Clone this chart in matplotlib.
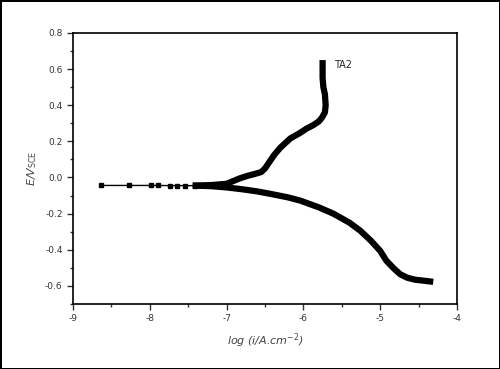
import matplotlib
matplotlib.use("Agg")
import matplotlib.pyplot as plt
from matplotlib.ticker import MultipleLocator

# sparse points (left tail)
tail_x = [-8.63, -8.27, -7.99, -7.89, -7.74, -7.65, -7.54, -7.41]
tail_y = [-0.044, -0.044, -0.044, -0.044, -0.045, -0.045, -0.045, -0.045]

# anodic branch
an_x = [-7.40, -7.20, -7.00, -6.83, -6.72, -6.63, -6.55, -6.50, -6.46, -6.43, -6.38,
        -6.30, -6.17, -6.05, -5.96, -5.87, -5.80, -5.76, -5.72, -5.71, -5.72, -5.74, -5.75, -5.75, -5.75]
an_y = [-0.045, -0.042, -0.035, -0.005, 0.01, 0.02, 0.03, 0.05, 0.075, 0.094, 0.125,
        0.165, 0.216, 0.245, 0.27, 0.29, 0.31, 0.33, 0.36, 0.40, 0.46, 0.50, 0.55, 0.60, 0.632]

# cathodic branch
ca_x = [-7.40, -7.20, -7.00, -6.80, -6.60, -6.40, -6.20, -6.04, -5.80, -5.61, -5.40, -5.26,
        -5.12, -5.00, -4.92, -4.83, -4.74, -4.65, -4.55, -4.45, -4.35]
ca_y = [-0.045, -0.048, -0.055, -0.065, -0.077, -0.093, -0.11, -0.128, -0.165, -0.20, -0.25, -0.294,
        -0.35, -0.406, -0.46, -0.50, -0.535, -0.554, -0.565, -0.570, -0.575]

label = "TA2"

fig = plt.figure(figsize=(5.0, 3.69), dpi=100)
fig.patch.set_edgecolor('black')
fig.patch.set_linewidth(2)
ax = fig.add_axes([0.146, 0.176, 0.768, 0.735])

ax.plot(tail_x, tail_y, '-s', color='black', lw=1, ms=3.5)
ax.plot(an_x, an_y, '-', color='black', lw=4.5, solid_capstyle='projecting', solid_joinstyle='round')
ax.plot(ca_x, ca_y, '-', color='black', lw=4.5, solid_capstyle='projecting', solid_joinstyle='round')
ax.text(-5.6, 0.62, label, fontsize=7, color='#222', va='center', ha='left')

ax.set_xlim(-9, -4)
ax.set_ylim(-0.7, 0.8)
ax.xaxis.set_major_locator(MultipleLocator(1))
ax.xaxis.set_minor_locator(MultipleLocator(0.5))
ax.yaxis.set_major_locator(MultipleLocator(0.2))
ax.yaxis.set_minor_locator(MultipleLocator(0.1))
ax.xaxis.set_major_formatter(matplotlib.ticker.FuncFormatter(lambda v, p: f"{v:.0f}"))
ax.yaxis.set_major_formatter(matplotlib.ticker.FuncFormatter(lambda v, p: f"{v:.1f}"))
ax.tick_params(which='both', direction='out', top=False, right=False, width=1, colors='#333',
               labelsize=6.5)
ax.tick_params(which='major', length=4)
ax.tick_params(which='minor', length=2.5)
for s in ax.spines.values():
    s.set_linewidth(1.2)

ax.set_xlabel("log (i/A.cm$^{-2}$)", fontsize=8, style='italic', color='#444', labelpad=6)
ax.set_ylabel("E/V$_{\\rm SCE}$", fontsize=8, style='italic', color='#444', labelpad=4)

fig.savefig("out.png", dpi=100)
